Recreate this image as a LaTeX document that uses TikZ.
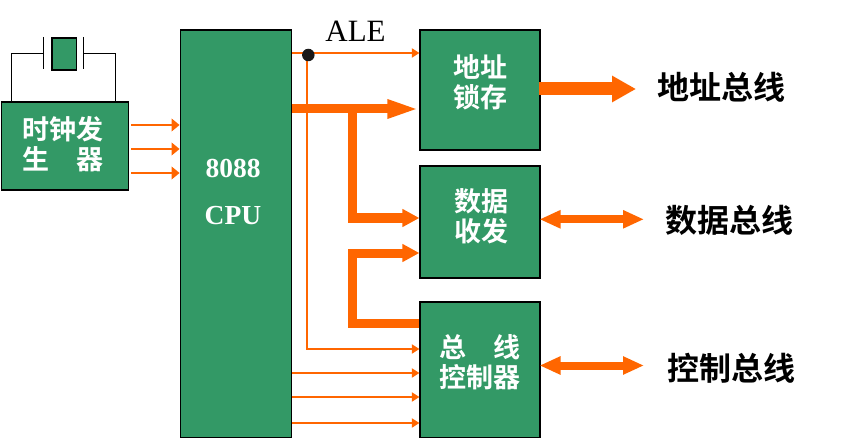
\documentclass[tikz,border=0pt]{standalone}
\usepackage{fontspec}
\setmainfont{Liberation Serif}
\newfontfamily\cjk{Noto Sans CJK SC}[BoldFont={Noto Sans CJK SC Bold}]
\usetikzlibrary{arrows.meta}
\definecolor{boxgreen}{RGB}{51,153,102}
\definecolor{wire}{RGB}{255,102,0}
\tikzset{
 gbox/.style={draw=black,line width=1.25pt,fill=boxgreen,text=white,inner sep=0pt,anchor=north west},
 lbl/.style={font=\cjk\bfseries\fontsize{27}{30}\selectfont,text=white,align=center,text width=115pt},
 thin arrow/.style={wire,line width=2pt,-{Triangle[length=7.5pt,width=9pt]}},
 clock arrow/.style={wire,line width=2pt,-{Triangle[length=8pt,width=12.5pt]}},
 thick arrow/.style={wire,line width=9pt,-{Triangle[length=32pt,width=17pt]}},
 mid arrow/.style={wire,line width=9pt,-{Triangle[length=17pt,width=17pt]}},
 big arrow/.style={wire,line width=13pt,-{Triangle[length=24pt,width=25pt]}},
 dbl arrow/.style={wire,line width=8pt,{Triangle[length=21pt,width=17pt]}-{Triangle[length=21pt,width=17pt]}},
 bus/.style={font=\cjk\bfseries\fontsize{32}{36}\selectfont,text=black}
}
\begin{document}
\begin{tikzpicture}[x=1pt,y=-1pt]
\useasboundingbox (0,0) rectangle (866,438);
% crystal
\node[gbox,minimum width=24.5pt,minimum height=32pt] (xtal) at (51.3,37.4) {};
\coordinate (pl1t) at (43.5,37); \coordinate (pl1b) at (43.5,69.5);
\coordinate (pl2t) at (83.5,37); \coordinate (pl2b) at (83.5,69.5);
\coordinate (pl1m) at (43.5,53.5); \coordinate (pl2m) at (83.5,53.5);
\draw[line width=1.25pt] (pl1t) -- (pl1b);
\draw[line width=1.25pt] (pl2t) -- (pl2b);
% boxes
\node[gbox,minimum width=127.6pt,minimum height=88pt] (clk) at (0.6,101.4) {};
\node[gbox,minimum width=111.4pt,minimum height=408pt] (cpu) at (179.6,29.4) {};
\node[gbox,minimum width=120pt,minimum height=120pt] (lat) at (419.4,29.4) {};
\node[gbox,minimum width=120pt,minimum height=112pt] (dat) at (419.4,165.4) {};
\node[gbox,minimum width=120pt,minimum height=136pt] (ctl) at (419.4,301.4) {};
\draw[line width=1.25pt] (clk.north west -| 11.5,0) |- (pl1m);
\draw[line width=1.25pt] (clk.north west -| 115.5,0) |- (pl2m);
% box texts
\node[lbl] (t1) at (63,144) {时钟发\\生\hspace{1em}器};
\node[font=\bfseries\fontsize{27.5}{27}\selectfont,text=white] (t2a) at (233,168) {8088};
\node[font=\bfseries\fontsize{27.5}{27}\selectfont,text=white] (t2b) at (233,216) {CPU};
\node[lbl] (t3) at (480,82) {地址\\锁存};
\node[lbl] (t4) at (481.5,216) {数据\\收发};
\node[lbl] (t5) at (479.5,362) {总\hspace{1em}线\\控制器};
% clock arrows
\coordinate (c1) at (131,125); \coordinate (c2) at (131,149); \coordinate (c3) at (131,173);
\draw[clock arrow] (c1) -- (c1 -| cpu.west);
\draw[clock arrow] (c2) -- (c2 -| cpu.west);
\draw[clock arrow] (c3) -- (c3 -| cpu.west);
% ALE
\coordinate (ale) at (307,53);
\node[font=\fontsize{31}{31}\selectfont] (alet) at (355.5,31) {ALE};
\draw[thin arrow] (cpu.east |- ale) -- (lat.west |- ale);
\coordinate (ctlale) at (307,349);
\draw[thin arrow] (ale) -- (ctlale) -- (ctl.west |- ctlale);
\node[circle,fill=black!90,inner sep=0pt,minimum size=12.5pt] (dot) at (308.3,55) {};
% thick buses
\coordinate (a1) at (291.5,109); \coordinate (a2) at (352,109); \coordinate (a3) at (352,218);
\draw[thick arrow] (a1) -- (lat.west |- a1);
\draw[mid arrow] ([yshift=-4.2pt]a2) -- (a3) -- (dat.west |- a3);
\coordinate (b1) at (352,323.5); \coordinate (b2) at (352,253);
\draw[mid arrow] (ctl.west |- b1) -- (b1) -- (b2) -- (dat.west |- b2);
% thin to controller
\coordinate (d1) at (291.5,373); \coordinate (d2) at (291.5,397); \coordinate (d3) at (291.5,423);
\draw[thin arrow] (d1) -- (ctl.west |- d1);
\draw[thin arrow] (d2) -- (ctl.west |- d2);
\draw[thin arrow] (d3) -- (ctl.west |- d3);
% right side
\node[bus] (b1t) at (721,87) {地址总线};
\node[bus] (b2t) at (729,220) {数据总线};
\node[bus] (b3t) at (731,368) {控制总线};
\coordinate (r1) at (539,89); \coordinate (r1e) at (636,89);
\draw[big arrow] (r1) -- (r1e);
\coordinate (r2) at (539.5,219.3); \coordinate (r2e) at (644,219.3);
\draw[dbl arrow] (r2) -- (r2e);
\coordinate (r3) at (539.5,365.5); \coordinate (r3e) at (644,365.5);
\draw[dbl arrow] (r3) -- (r3e);
\end{tikzpicture}
\end{document}
